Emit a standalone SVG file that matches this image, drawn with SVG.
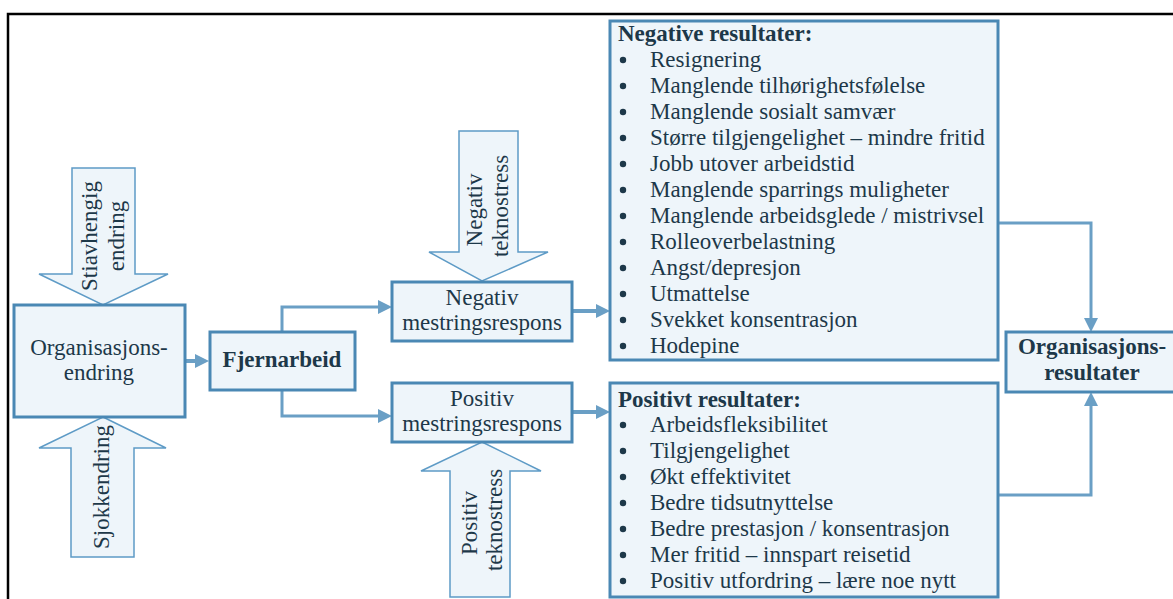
<svg xmlns="http://www.w3.org/2000/svg" width="1173" height="599" viewBox="0 0 1173 599">
  <defs>
    <style>
      .box { fill: #eef5fa; stroke: #4a88b4; stroke-width: 3; }
      .blk { fill: #eef5fa; stroke: #5e9bc6; stroke-width: 1.5; }
      .con { fill: none; stroke: #6a9fc5; stroke-width: 3; }
      .thick { stroke-width: 4; }
      text { font-family: "Liberation Serif", "Times New Roman", serif; font-size: 23px; fill: #1d3849; }
      .c { text-anchor: middle; }
      .b { font-weight: bold; }
      .dot { fill: #1d3849; }
    </style>
    <marker id="ah" markerUnits="userSpaceOnUse" markerWidth="16" markerHeight="16" refX="6" refY="7" orient="auto">
      <path d="M0,0 L14,7 L0,14 z" fill="#6a9fc5"/>
    </marker>
  </defs>

  <!-- frame -->
  <path d="M8,599 V14 H1173" fill="none" stroke="#000" stroke-width="2.5"/>

  <!-- connectors -->
  <g id="connectors">
    <path class="con thick" d="M186,361 H201" marker-end="url(#ah)"/>
    <path class="con" d="M282,332 V307 H384" marker-end="url(#ah)"/>
    <path class="con" d="M282,390 V416 H384" marker-end="url(#ah)"/>
    <path class="con thick" d="M572,311 H602" marker-end="url(#ah)"/>
    <path class="con thick" d="M572,412 H602" marker-end="url(#ah)"/>
    <path class="con" d="M998,223 H1091 V324" marker-end="url(#ah)"/>
    <path class="con" d="M998,495 H1091 V400" marker-end="url(#ah)"/>
  </g>

  <!-- influence arrows -->
  <g id="stiavhengig">
    <polygon class="blk" points="72,168 135,168 135,274 168,274 103,305 39,274 72,274"/>
    <text class="c" transform="translate(97,236) rotate(-90)">Stiavhengig</text>
    <text class="c" transform="translate(124,236) rotate(-90)">endring</text>
  </g>
  <g id="sjokkendring">
    <polygon class="blk" points="103,417 166,448 134,448 134,557 71,557 71,448 39,448"/>
    <text class="c" transform="translate(109,487) rotate(-90)">Sjokkendring</text>
  </g>
  <g id="neg-teknostress">
    <polygon class="blk" points="459,131 518,131 518,252 548,252 482,281 429,252 459,252"/>
    <text class="c" transform="translate(482,210) rotate(-90)">Negativ</text>
    <text class="c" transform="translate(508,206) rotate(-90)">teknostress</text>
  </g>
  <g id="pos-teknostress">
    <polygon class="blk" points="482,442 541,471 510,471 510,597 450,597 450,471 421,471"/>
    <text class="c" transform="translate(477,523) rotate(-90)">Positiv</text>
    <text class="c" transform="translate(502,520) rotate(-90)">teknostress</text>
  </g>

  <!-- process boxes -->
  <g id="org-endring">
    <rect class="box" x="14" y="305" width="171" height="112"/>
    <text class="c" x="99" y="355">Organisasjons-</text>
    <text class="c" x="99" y="380">endring</text>
  </g>
  <g id="fjernarbeid">
    <rect class="box" x="210" y="332" width="145" height="58"/>
    <text class="c b" x="282" y="367">Fjernarbeid</text>
  </g>
  <g id="neg-mestring">
    <rect class="box" x="392" y="282" width="180" height="59"/>
    <text class="c" x="482" y="305">Negativ</text>
    <text class="c" x="482" y="330">mestringsrespons</text>
  </g>
  <g id="pos-mestring">
    <rect class="box" x="392" y="383" width="180" height="59"/>
    <text class="c" x="482" y="406">Positiv</text>
    <text class="c" x="482" y="431">mestringsrespons</text>
  </g>

  <!-- outcome lists -->
  <g id="neg-resultater">
    <rect class="box" x="610" y="21" width="388" height="339"/>
    <text class="b" x="618" y="41">Negative resultater:</text>
    <g class="dot">
      <circle cx="623" cy="60" r="3.2"/><circle cx="623" cy="86" r="3.2"/><circle cx="623" cy="112" r="3.2"/>
      <circle cx="623" cy="138" r="3.2"/><circle cx="623" cy="164" r="3.2"/><circle cx="623" cy="190" r="3.2"/>
      <circle cx="623" cy="216" r="3.2"/><circle cx="623" cy="242" r="3.2"/><circle cx="623" cy="268" r="3.2"/>
      <circle cx="623" cy="294" r="3.2"/><circle cx="623" cy="320" r="3.2"/><circle cx="623" cy="346" r="3.2"/>
    </g>
    <text x="650" y="67">Resignering</text>
    <text x="650" y="93">Manglende tilhørighetsfølelse</text>
    <text x="650" y="119">Manglende sosialt samvær</text>
    <text x="650" y="145">Større tilgjengelighet – mindre fritid</text>
    <text x="650" y="171">Jobb utover arbeidstid</text>
    <text x="650" y="197">Manglende sparrings muligheter</text>
    <text x="650" y="223">Manglende arbeidsglede / mistrivsel</text>
    <text x="650" y="249">Rolleoverbelastning</text>
    <text x="650" y="275">Angst/depresjon</text>
    <text x="650" y="301">Utmattelse</text>
    <text x="650" y="327">Svekket konsentrasjon</text>
    <text x="650" y="353">Hodepine</text>
  </g>
  <g id="pos-resultater">
    <rect class="box" x="610" y="383" width="388" height="214"/>
    <text class="b" x="618" y="407">Positivt resultater:</text>
    <g class="dot">
      <circle cx="623" cy="425" r="3.2"/><circle cx="623" cy="451" r="3.2"/><circle cx="623" cy="477" r="3.2"/>
      <circle cx="623" cy="503" r="3.2"/><circle cx="623" cy="529" r="3.2"/><circle cx="623" cy="555" r="3.2"/>
      <circle cx="623" cy="581" r="3.2"/>
    </g>
    <text x="650" y="432">Arbeidsfleksibilitet</text>
    <text x="650" y="458">Tilgjengelighet</text>
    <text x="650" y="484">Økt effektivitet</text>
    <text x="650" y="510">Bedre tidsutnyttelse</text>
    <text x="650" y="536">Bedre prestasjon / konsentrasjon</text>
    <text x="650" y="562">Mer fritid – innspart reisetid</text>
    <text x="650" y="588">Positiv utfordring – lære noe nytt</text>
  </g>

  <g id="org-resultater">
    <rect class="box" x="1006" y="332" width="170" height="60"/>
    <text class="c b" x="1092" y="354">Organisasjons-</text>
    <text class="c b" x="1092" y="380">resultater</text>
  </g>
</svg>
